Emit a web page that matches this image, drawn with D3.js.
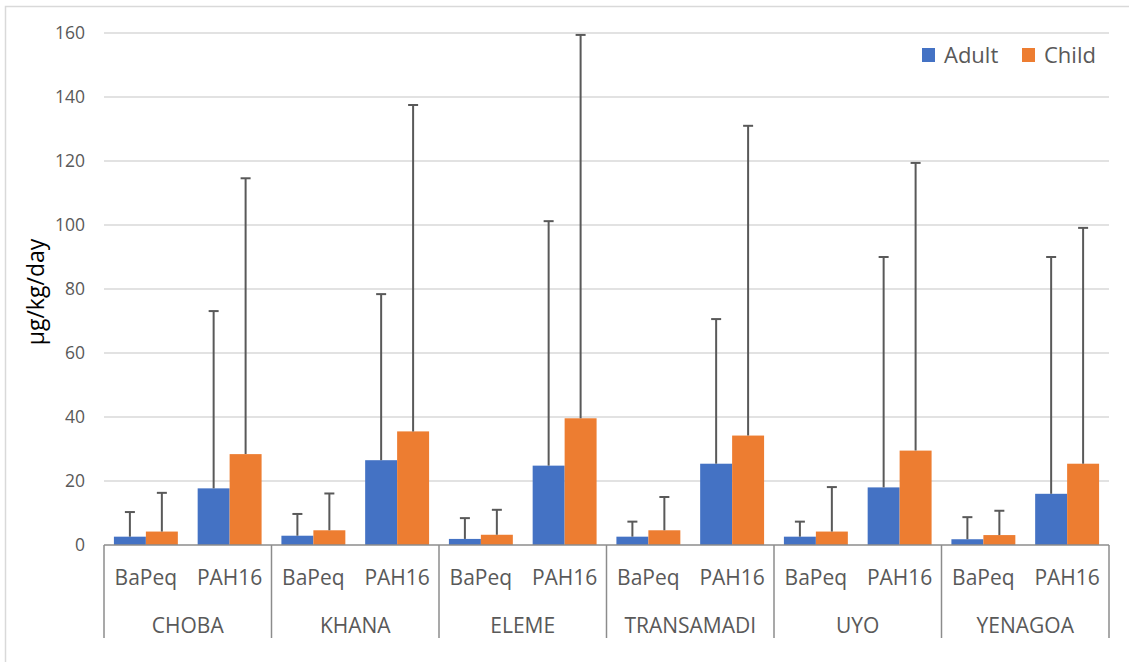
<!DOCTYPE html>
<html>
<head>
<meta charset="utf-8">
<script src="https://cdn.jsdelivr.net/npm/d3@7"></script>
<style>
  body { margin: 0; background: #fff; }
  svg { display: block; font-family: "Open Sans", "Noto Sans", sans-serif; }
</style>
</head>
<body>
<svg id="chart" width="1129" height="662"></svg>
<script>
  // Data
  var sites = ["CHOBA", "KHANA", "ELEME", "TRANSAMADI", "UYO", "YENAGOA"];
  var measures = ["BaPeq", "PAH16"];
  var groups = ["Adult", "Child"];
  var colors = ["#4472c4", "#ed7d31"];

  // values per site: [BaPeq, PAH16]
  var adultMean = [[2.6, 17.7], [2.9, 26.5], [1.9, 24.8], [2.6, 25.4], [2.6, 18.0], [1.8, 16.0]];
  var childMean = [[4.2, 28.4], [4.6, 35.5], [3.2, 39.6], [4.6, 34.2], [4.2, 29.5], [3.1, 25.4]];
  // upper end of error bars
  var adultErr = [[10.3, 73.1], [9.7, 78.4], [8.4, 101.2], [7.3, 70.6], [7.3, 90.0], [8.7, 90.0]];
  var childErr = [[16.3, 114.6], [16.1, 137.5], [11.0, 159.4], [15.0, 131.0], [18.1, 119.4], [10.7, 99.1]];
  var yTicks = [0, 20, 40, 60, 80, 100, 120, 140, 160];

  (function () {
    var svg = d3.select("#chart");
    var plotLeft = 104, plotRight = 1109, plotTop = 33, plotBottom = 545;

    // outer chart border
    svg.append("rect")
      .attr("x", 5.5).attr("y", 6.5)
      .attr("width", 1140).attr("height", 670)
      .attr("fill", "none").attr("stroke", "#d9d9d9").attr("stroke-width", 1.5);

    var y = d3.scaleLinear().domain([0, 160]).range([plotBottom, plotTop]);
    var xSite = d3.scaleBand().domain(sites).range([plotLeft, plotRight]);
    var xMeasure = d3.scaleBand().domain(measures).range([0, xSite.bandwidth()]);
    var xGroup = d3.scaleBand().domain(groups).range([0, xMeasure.bandwidth()])
      .paddingOuter(0.31).paddingInner(0);

    // gridlines
    svg.append("g").selectAll("line")
      .data(yTicks.filter(function (d) { return d > 0; }))
      .enter().append("line")
      .attr("x1", plotLeft).attr("x2", plotRight)
      .attr("y1", function (d) { return y(d); })
      .attr("y2", function (d) { return y(d); })
      .attr("stroke", "#d9d9d9").attr("stroke-width", 1.5);

    // y axis labels
    var yAxis = d3.axisLeft(y).tickValues(yTicks).tickSize(0).tickPadding(19);
    var yg = svg.append("g").attr("transform", "translate(" + plotLeft + ",0)").call(yAxis);
    yg.select(".domain").remove();
    yg.selectAll("text").attr("font-size", 17.5).attr("fill", "#595959")
      .attr("font-family", "Open Sans, sans-serif");

    svg.append("text")
      .attr("transform", "translate(44,292) rotate(-90)")
      .attr("text-anchor", "middle")
      .attr("font-size", 23).attr("fill", "#000")
      .text("µg/kg/day");

    // flatten bars
    var bars = [];
    sites.forEach(function (s, i) {
      measures.forEach(function (m, j) {
        bars.push({ site: s, measure: m, group: "Adult", value: adultMean[i][j], err: adultErr[i][j], color: colors[0] });
        bars.push({ site: s, measure: m, group: "Child", value: childMean[i][j], err: childErr[i][j], color: colors[1] });
      });
    });

    function barX(d) {
      return xSite(d.site) + xMeasure(d.measure) + xGroup(d.group);
    }
    function barMid(d) {
      return barX(d) + xGroup.bandwidth() / 2;
    }

    svg.append("g").selectAll("rect")
      .data(bars).enter().append("rect")
      .attr("x", barX)
      .attr("width", xGroup.bandwidth())
      .attr("y", function (d) { return y(d.value); })
      .attr("height", function (d) { return y(0) - y(d.value); })
      .attr("fill", function (d) { return d.color; });

    // error bars (plus only)
    var eg = svg.append("g").attr("stroke", "#595959").attr("stroke-width", 2);
    eg.selectAll("line.stem").data(bars).enter().append("line")
      .attr("class", "stem")
      .attr("x1", barMid).attr("x2", barMid)
      .attr("y1", function (d) { return y(d.value); })
      .attr("y2", function (d) { return y(d.err); });
    eg.selectAll("line.cap").data(bars).enter().append("line")
      .attr("class", "cap")
      .attr("x1", function (d) { return barMid(d) - 5; })
      .attr("x2", function (d) { return barMid(d) + 5; })
      .attr("y1", function (d) { return y(d.err); })
      .attr("y2", function (d) { return y(d.err); });

    // category axis
    var axis = svg.append("g").attr("stroke", "#8c8c8c").attr("stroke-width", 1.5);
    axis.append("line").attr("x1", plotLeft).attr("x2", plotRight)
      .attr("y1", plotBottom).attr("y2", plotBottom);
    axis.selectAll("line.div")
      .data(sites.map(function (s) { return xSite(s); }).concat([plotRight]))
      .enter().append("line")
      .attr("class", "div")
      .attr("x1", function (d) { return d; }).attr("x2", function (d) { return d; })
      .attr("y1", plotBottom).attr("y2", 638);

    var labels = svg.append("g").attr("fill", "#595959").attr("font-size", 21)
      .attr("text-anchor", "middle");
    sites.forEach(function (s) {
      measures.forEach(function (m) {
        labels.append("text")
          .attr("x", xSite(s) + xMeasure(m) + xMeasure.bandwidth() / 2)
          .attr("y", 585)
          .text(m);
      });
      labels.append("text")
        .attr("x", xSite(s) + xSite.bandwidth() / 2)
        .attr("y", 633)
        .text(s);
    });

    // legend
    var legend = svg.append("g");
    var legendX = [922, 1022];
    groups.forEach(function (g, i) {
      legend.append("rect")
        .attr("x", legendX[i]).attr("y", 48)
        .attr("width", 13).attr("height", 14)
        .attr("fill", colors[i]);
      legend.append("text")
        .attr("x", legendX[i] + 22).attr("y", 63)
        .attr("font-size", 22).attr("fill", "#595959")
        .text(g);
    });
  })();
</script>
</body>
</html>
